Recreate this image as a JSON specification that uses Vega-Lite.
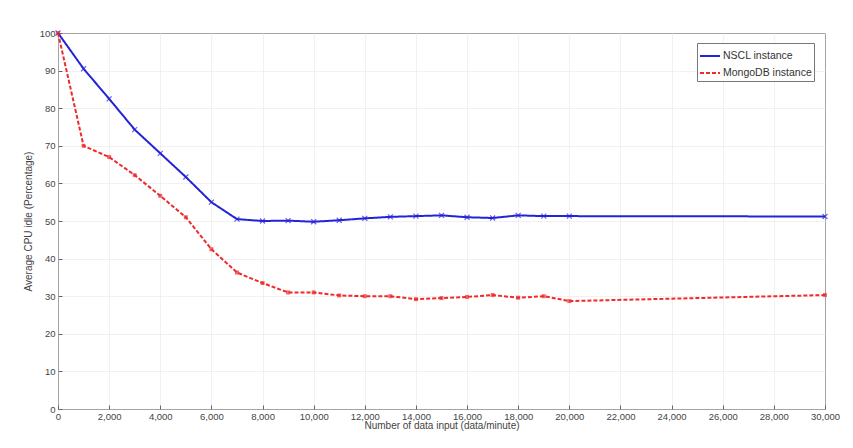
{
  "$schema": "https://vega.github.io/schema/vega-lite/v6.json",
  "autosize": {"type": "none"},
  "padding": {"left": 58, "top": 33, "right": 27, "bottom": 39},
  "width": 767,
  "height": 376,
  "background": "white",
  "config": {
    "font": "Liberation Sans",
    "view": {"stroke": "#666", "strokeWidth": 1},
    "axis": {"labelFont": "Liberation Sans", "titleFont": "Liberation Sans", "labelFontSize": 9.5, "titleFontSize": 10, "titleFontWeight": "normal", "labelColor": "#444", "titleColor": "#444", "gridColor": "#e2e2e2", "gridDash": [1, 1], "domain": false, "tickColor": "#666", "tickSize": -4, "labelPadding": 8},
    "legend": {"orient": "none", "legendX": 639, "legendY": 10, "labelFontSize": 10.5, "labelColor": "#333", "labelFont": "Liberation Sans", "strokeColor": "#777", "fillColor": "white", "padding": 2, "rowPadding": 0, "symbolType": "stroke", "symbolSize": 400, "symbolStrokeWidth": 2, "labelOffset": 2, "labelLimit": 200}
  },
  "data": {"values": [
    {"x": 0, "y": 100, "s": "NSCL instance"},
    {"x": 1000, "y": 90.5, "s": "NSCL instance"},
    {"x": 2000, "y": 82.5, "s": "NSCL instance"},
    {"x": 3000, "y": 74.3, "s": "NSCL instance"},
    {"x": 4000, "y": 68, "s": "NSCL instance"},
    {"x": 5000, "y": 61.7, "s": "NSCL instance"},
    {"x": 6000, "y": 55, "s": "NSCL instance"},
    {"x": 7000, "y": 50.5, "s": "NSCL instance"},
    {"x": 8000, "y": 50, "s": "NSCL instance"},
    {"x": 9000, "y": 50.1, "s": "NSCL instance"},
    {"x": 10000, "y": 49.8, "s": "NSCL instance"},
    {"x": 11000, "y": 50.2, "s": "NSCL instance"},
    {"x": 12000, "y": 50.7, "s": "NSCL instance"},
    {"x": 13000, "y": 51.1, "s": "NSCL instance"},
    {"x": 14000, "y": 51.3, "s": "NSCL instance"},
    {"x": 15000, "y": 51.5, "s": "NSCL instance"},
    {"x": 16000, "y": 51, "s": "NSCL instance"},
    {"x": 17000, "y": 50.8, "s": "NSCL instance"},
    {"x": 18000, "y": 51.5, "s": "NSCL instance"},
    {"x": 19000, "y": 51.3, "s": "NSCL instance"},
    {"x": 20000, "y": 51.3, "s": "NSCL instance"},
    {"x": 30000, "y": 51.2, "s": "NSCL instance"},
    {"x": 0, "y": 100, "s": "MongoDB instance"},
    {"x": 1000, "y": 70, "s": "MongoDB instance"},
    {"x": 2000, "y": 67, "s": "MongoDB instance"},
    {"x": 3000, "y": 62.2, "s": "MongoDB instance"},
    {"x": 4000, "y": 56.7, "s": "MongoDB instance"},
    {"x": 5000, "y": 51, "s": "MongoDB instance"},
    {"x": 6000, "y": 42.5, "s": "MongoDB instance"},
    {"x": 7000, "y": 36.3, "s": "MongoDB instance"},
    {"x": 8000, "y": 33.5, "s": "MongoDB instance"},
    {"x": 9000, "y": 31, "s": "MongoDB instance"},
    {"x": 10000, "y": 31, "s": "MongoDB instance"},
    {"x": 11000, "y": 30.2, "s": "MongoDB instance"},
    {"x": 12000, "y": 30, "s": "MongoDB instance"},
    {"x": 13000, "y": 30, "s": "MongoDB instance"},
    {"x": 14000, "y": 29.2, "s": "MongoDB instance"},
    {"x": 15000, "y": 29.5, "s": "MongoDB instance"},
    {"x": 16000, "y": 29.8, "s": "MongoDB instance"},
    {"x": 17000, "y": 30.3, "s": "MongoDB instance"},
    {"x": 18000, "y": 29.6, "s": "MongoDB instance"},
    {"x": 19000, "y": 30, "s": "MongoDB instance"},
    {"x": 20000, "y": 28.7, "s": "MongoDB instance"},
    {"x": 30000, "y": 30.3, "s": "MongoDB instance"}
  ]},
  "encoding": {
    "x": {"field": "x", "type": "quantitative", "scale": {"domain": [0, 30000], "nice": false}, "axis": {"values": [0, 2000, 4000, 6000, 8000, 10000, 12000, 14000, 16000, 18000, 20000, 22000, 24000, 26000, 28000, 30000], "format": ",.0f", "title": "Number of data input (data/minute)", "titlePadding": 0, "labelPadding": 6, "labelFlush": false}},
    "y": {"field": "y", "type": "quantitative", "scale": {"domain": [0, 100], "nice": false}, "axis": {"values": [0, 10, 20, 30, 40, 50, 60, 70, 80, 90, 100], "title": "Average CPU idle (Percentage)", "titlePadding": 6, "labelPadding": 7}}
  },
  "layer": [
    {
      "mark": {"type": "line", "strokeWidth": 2},
      "encoding": {
        "color": {"field": "s", "type": "nominal", "title": null, "scale": {"domain": ["NSCL instance", "MongoDB instance"], "range": ["#2323d8", "#ee2a2a"]}},
        "strokeDash": {"field": "s", "type": "nominal", "title": null, "scale": {"domain": ["NSCL instance", "MongoDB instance"], "range": [[1, 0], [4, 2]]}}
      }
    },
    {
      "mark": {"type": "point", "filled": false, "size": 25, "strokeWidth": 1.2, "color": "#2323d8", "shape": "M-1,-1L1,1M-1,1L1,-1"},
      "transform": [{"filter": "datum.s == 'NSCL instance'"}]
    },
    {
      "mark": {"type": "point", "filled": true, "size": 16, "shape": "square", "color": "#ee2a2a"},
      "transform": [{"filter": "datum.s == 'MongoDB instance'"}]
    }
  ]
}
